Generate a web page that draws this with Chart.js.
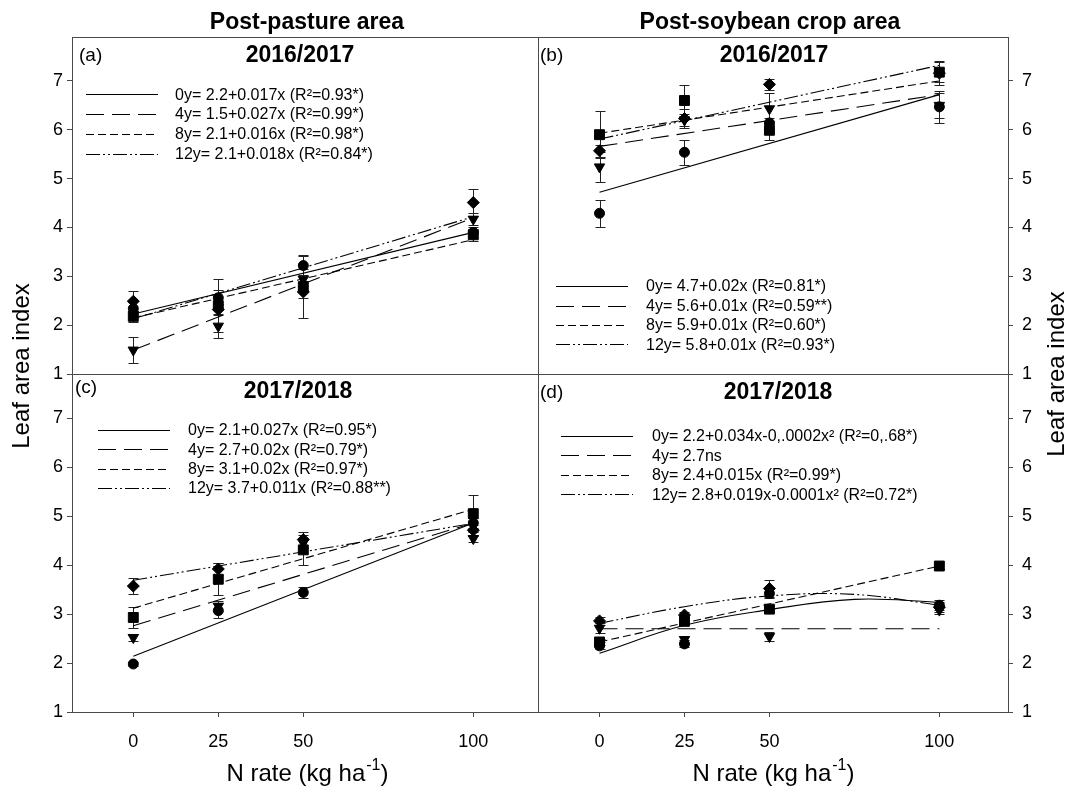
<!DOCTYPE html>
<html><head><meta charset="utf-8">
<script src="https://cdn.jsdelivr.net/npm/chart.js@4.4.1/dist/chart.umd.min.js"></script>
<style>
html,body{margin:0;padding:0;background:#fff;}
#wrap{position:relative;width:1067px;height:786px;overflow:hidden;background:#fff;}
#wrap canvas{position:absolute;left:0;top:0;}
</style></head><body>
<div id="wrap">
<canvas id="pa" width="1067" height="786"></canvas>
<canvas id="pb" width="1067" height="786"></canvas>
<canvas id="pc" width="1067" height="786"></canvas>
<canvas id="pd" width="1067" height="786"></canvas>
</div>
<script>
// ---------- data ----------
const nRates = [0, 25, 50, 100];
const xTickValues = [0, 25, 50, 100];
const yTickValues = [1, 2, 3, 4, 5, 6, 7];
const ages = ['0y', '4y', '8y', '12y'];
const fitXLinear = [0, 100];
const fitXCurve = [0, 25, 50, 75, 100];

// (a) Post-pasture 2016/2017
const laiA_0y = [2.34, 2.56, 3.22, 3.90];
const laiA_4y = [1.49, 1.98, 2.94, 4.17];
const laiA_8y = [2.18, 2.40, 2.79, 3.85];
const laiA_12y = [2.49, 2.32, 2.68, 4.51];
const seA_0y = [0.18, 0.15, 0.20, 0.10];
const seA_4y = [0.27, 0.25, 0.22, 0.12];
const seA_8y = [0.12, 0.55, 0.65, 0.12];
const seA_12y = [0.20, 0.12, 0.12, 0.27];
const fitA_0y = [2.23, 3.90];
const fitA_4y = [1.49, 4.20];
const fitA_8y = [2.15, 3.75];
const fitA_12y = [2.13, 4.22];
const eqA = ['0y= 2.2+0.017x (R\u00b2=0.93*)', '4y= 1.5+0.027x (R\u00b2=0.99*)', '8y= 2.1+0.016x (R\u00b2=0.98*)', '12y= 2.1+0.018x (R\u00b2=0.84*)'];

// (b) Post-soybean 2016/2017
const laiB_0y = [4.29, 5.54, 6.14, 6.47];
const laiB_4y = [5.24, 6.20, 6.43, 6.50];
const laiB_8y = [5.90, 6.60, 5.99, 7.18];
const laiB_12y = [5.57, 6.23, 6.93, 7.16];
const seB_0y = [0.27, 0.26, 0.10, 0.33];
const seB_4y = [0.30, 0.12, 0.32, 0.25];
const seB_8y = [0.48, 0.32, 0.20, 0.20];
const seB_12y = [0.12, 0.20, 0.12, 0.24];
const fitB_0y = [4.72, 6.72];
const fitB_4y = [5.66, 6.72];
const fitB_8y = [5.93, 7.00];
const fitB_12y = [5.81, 7.32];
const eqB = ['0y= 4.7+0.02x (R\u00b2=0.81*)', '4y= 5.6+0.01x (R\u00b2=0.59**)', '8y= 5.9+0.01x (R\u00b2=0.60*)', '12y= 5.8+0.01x (R\u00b2=0.93*)'];

// (c) Post-pasture 2017/2018
const laiC_0y = [1.98, 3.07, 3.44, 4.86];
const laiC_4y = [2.52, 3.16, 4.45, 4.54];
const laiC_8y = [2.93, 3.71, 4.31, 5.05];
const laiC_12y = [3.57, 3.92, 4.52, 4.71];
const seC_0y = [0.05, 0.15, 0.12, 0.10];
const seC_4y = [0.08, 0.10, 0.10, 0.06];
const seC_8y = [0.22, 0.33, 0.30, 0.38];
const seC_12y = [0.17, 0.13, 0.15, 0.10];
const fitC_0y = [2.14, 4.86];
const fitC_4y = [2.76, 4.86];
const fitC_8y = [3.12, 5.14];
const fitC_12y = [3.69, 4.85];
const eqC = ['0y= 2.1+0.027x (R\u00b2=0.95*)', '4y= 2.7+0.02x (R\u00b2=0.79*)', '8y= 3.1+0.02x (R\u00b2=0.97*)', '12y= 3.7+0.011x (R\u00b2=0.88**)'];

// (d) Post-soybean 2017/2018
const laiD_0y = [2.35, 2.39, 3.42, 3.18];
const laiD_4y = [2.71, 2.48, 2.54, 3.08];
const laiD_8y = [2.43, 2.85, 3.10, 3.98];
const laiD_12y = [2.86, 2.98, 3.52, 3.14];
const seD_0y = [0.07, 0.07, 0.10, 0.10];
const seD_4y = [0.10, 0.08, 0.10, 0.07];
const seD_8y = [0.07, 0.06, 0.06, 0.07];
const seD_12y = [0.08, 0.06, 0.17, 0.10];
const fitD_0y = [2.20, 2.77, 3.09, 3.30, 3.24];
const fitD_4y = [2.70, 2.70];
const fitD_8y = [2.43, 3.98];
const fitD_12y = [2.81, 3.15, 3.37, 3.40, 3.18];
const eqD = ['0y= 2.2+0.034x-0,.0002x\u00b2 (R\u00b2=0,.68*)', '4y= 2.7ns', '8y= 2.4+0.015x (R\u00b2=0.99*)', '12y= 2.8+0.019x-0.0001x\u00b2 (R\u00b2=0.72*)'];

// ---------- styling ----------
const FAMILY = "'Liberation Sans', Arial, Helvetica, sans-serif";
const AXIS_COLOR = '#4a4a4a';
const seriesStyle = {
  dash: [[], [18, 8], [8, 4], [14, 3, 2, 3, 2, 3]],
  point: ['circle', 'triangle', 'rect', 'rectRot'],
  rotation: [0, 180, 0, 0],
  radius: [5, 6, 7, 6]
};
Chart.defaults.font.family = FAMILY;
Chart.defaults.color = '#000';

function drawXTitle(ctx, cx, baseY) {
  const main = 'N rate (kg ha', sup = '-1', end = ')';
  ctx.font = '24px ' + FAMILY; const w1 = ctx.measureText(main).width; const w3 = ctx.measureText(end).width;
  ctx.font = '16px ' + FAMILY; const w2 = ctx.measureText(sup).width;
  let x = cx - (w1 + w2 + w3) / 2;
  ctx.textAlign = 'left'; ctx.textBaseline = 'alphabetic'; ctx.fillStyle = '#000';
  ctx.font = '24px ' + FAMILY; ctx.fillText(main, x, baseY); x += w1;
  ctx.font = '16px ' + FAMILY; ctx.fillText(sup, x + 1, baseY - 11); x += w2 + 1;
  ctx.font = '24px ' + FAMILY; ctx.fillText(end, x, baseY);
}

function buildPanel(id, p) {
  const datasets = [];
  ages.forEach((age, k) => {
    datasets.push({
      label: age,
      data: nRates.map((x, j) => ({ x: x, y: p.means[k][j] })),
      errors: p.se[k],
      showLine: false,
      pointStyle: seriesStyle.point[k],
      rotation: seriesStyle.rotation[k],
      pointRadius: seriesStyle.radius[k],
      backgroundColor: '#000', borderColor: '#000', borderWidth: 1,
      order: 0
    });
  });
  ages.forEach((age, k) => {
    const fx = p.fits[k].length > 2 ? fitXCurve : fitXLinear;
    datasets.push({
      label: age + ' fit',
      data: fx.map((x, j) => ({ x: x, y: p.fits[k][j] })),
      showLine: true, pointRadius: 0, borderColor: '#000', borderWidth: 1.1,
      borderDash: seriesStyle.dash[k], tension: fx.length > 2 ? 0.4 : 0,
      fill: false, order: 1
    });
  });

  const errorBars = {
    id: 'errorBars' + id,
    beforeDatasetsDraw(chart) {
      const ctx = chart.ctx, ys = chart.scales.y;
      ctx.save();
      ctx.strokeStyle = '#222'; ctx.lineWidth = 1;
      chart.data.datasets.forEach((ds, i) => {
        if (!ds.errors) return;
        const meta = chart.getDatasetMeta(i);
        meta.data.forEach((pt, j) => {
          const v = ds.data[j].y, e = ds.errors[j];
          const x = Math.round(pt.x) + 0.5;
          const y1 = Math.round(ys.getPixelForValue(v + e)) + 0.5;
          const y2 = Math.round(ys.getPixelForValue(v - e)) + 0.5;
          ctx.beginPath();
          ctx.moveTo(x, y1); ctx.lineTo(x, y2);
          ctx.moveTo(x - 5, y1); ctx.lineTo(x + 5, y1);
          ctx.moveTo(x - 5, y2); ctx.lineTo(x + 5, y2);
          ctx.stroke();
        });
      });
      ctx.restore();
    }
  };

  const decor = {
    id: 'decor' + id,
    afterDraw(chart) {
      const ctx = chart.ctx, a = chart.chartArea;
      ctx.save();
      ctx.strokeStyle = AXIS_COLOR; ctx.lineWidth = 1;
      const L = Math.round(a.left) + 0.5, R = Math.round(a.right) + 0.5, T = Math.round(a.top) + 0.5, B = Math.round(a.bottom) + 0.5;
      ctx.strokeRect(L, T, R - L, B - T);
      // legend
      const lg = p.legend;
      ctx.strokeStyle = '#000'; ctx.fillStyle = '#000'; ctx.lineWidth = 1.1;
      ctx.font = '16px ' + FAMILY; ctx.textBaseline = 'middle'; ctx.textAlign = 'left';
      p.eq.forEach((t, k) => {
        const y = Math.round(lg.ys[k]) + 0.5;
        ctx.setLineDash(seriesStyle.dash[k]);
        ctx.beginPath(); ctx.moveTo(lg.x1, y); ctx.lineTo(lg.x2, y); ctx.stroke();
        ctx.setLineDash([]);
        ctx.fillText(t, lg.tx, lg.ys[k] + 1);
      });
      // texts
      p.texts.forEach(t => {
        ctx.save();
        ctx.font = t.font; ctx.textAlign = t.align || 'center'; ctx.textBaseline = 'middle'; ctx.fillStyle = '#000';
        ctx.translate(t.x, t.y);
        if (t.rot) ctx.rotate(t.rot);
        ctx.fillText(t.text, 0, 0);
        ctx.restore();
      });
      if (p.xTitle) drawXTitle(ctx, p.xTitle.x, p.xTitle.y);
      ctx.restore();
    }
  };

  new Chart(document.getElementById(id), {
    type: 'scatter',
    data: { datasets: datasets },
    options: {
      responsive: false, animation: false, events: [],
      layout: { padding: p.padding },
      plugins: { legend: { display: false }, tooltip: { enabled: false } },
      scales: {
        x: {
          type: 'linear', min: p.xMin, max: p.xMax, display: p.showX, position: 'bottom',
          afterBuildTicks: s => { s.ticks = xTickValues.map(v => ({ value: v })); },
          afterFit: s => { s.height = p.showX ? 74 : 0; },
          ticks: { font: { size: 18 }, color: '#000', padding: 14, autoSkip: false, maxRotation: 0 },
          grid: { drawOnChartArea: false, drawTicks: true, tickLength: 5, color: AXIS_COLOR, lineWidth: 1 },
          border: { display: true, color: AXIS_COLOR, width: 1 }
        },
        y: {
          type: 'linear', min: 1, max: 7.9, position: p.yPos,
          afterBuildTicks: s => { s.ticks = yTickValues.map(v => ({ value: v })); },
          afterFit: s => { s.width = p.yWidth; },
          ticks: { font: { size: 18 }, color: '#000', padding: p.yPad, autoSkip: false },
          grid: { drawOnChartArea: false, drawTicks: true, tickLength: 5, color: AXIS_COLOR, lineWidth: 1 },
          border: { display: true, color: AXIS_COLOR, width: 1 }
        }
      }
    },
    plugins: [errorBars, decor]
  });
}

const TITLE_FONT = 'bold 23px ' + FAMILY;
const TAG_FONT = '19px ' + FAMILY;
const AXT_FONT = '24px ' + FAMILY;

buildPanel('pa', {
  means: [laiA_0y, laiA_4y, laiA_8y, laiA_12y], se: [seA_0y, seA_4y, seA_8y, seA_12y],
  fits: [fitA_0y, fitA_4y, fitA_8y, fitA_12y], eq: eqA,
  padding: { left: 0, top: 37, right: 529, bottom: 412 }, yPos: 'left', yWidth: 72, yPad: 4,
  showX: false, xMin: -18.03, xMax: 119.03,
  legend: { x1: 86, x2: 158, tx: 175, ys: [94.3, 114, 133.5, 154] },
  texts: [
    { text: 'Post-pasture area', x: 307, y: 23, font: TITLE_FONT },
    { text: '(a)', x: 79, y: 56, font: TAG_FONT, align: 'left' },
    { text: '2016/2017', x: 300, y: 56, font: TITLE_FONT },
    { text: 'Leaf area index', x: 22, y: 366, font: AXT_FONT, rot: -Math.PI / 2 }
  ]
});
buildPanel('pb', {
  means: [laiB_0y, laiB_4y, laiB_8y, laiB_12y], se: [seB_0y, seB_4y, seB_8y, seB_12y],
  fits: [fitB_0y, fitB_4y, fitB_8y, fitB_12y], eq: eqB,
  padding: { left: 538, top: 37, right: 0, bottom: 412 }, yPos: 'right', yWidth: 59, yPad: 9,
  showX: false, xMin: -18.1, xMax: 120.2,
  legend: { x1: 556, x2: 628, tx: 646, ys: [286, 305.7, 324.5, 344.3] },
  texts: [
    { text: 'Post-soybean crop area', x: 770, y: 23, font: TITLE_FONT },
    { text: '(b)', x: 540, y: 56, font: TAG_FONT, align: 'left' },
    { text: '2016/2017', x: 774, y: 56, font: TITLE_FONT },
    { text: 'Leaf area index', x: 1057, y: 374, font: AXT_FONT, rot: -Math.PI / 2 }
  ]
});
buildPanel('pc', {
  means: [laiC_0y, laiC_4y, laiC_8y, laiC_12y], se: [seC_0y, seC_4y, seC_8y, seC_12y],
  fits: [fitC_0y, fitC_4y, fitC_8y, fitC_12y], eq: eqC,
  padding: { left: 0, top: 374, right: 529, bottom: 0 }, yPos: 'left', yWidth: 72, yPad: 4,
  showX: true, xMin: -18.03, xMax: 119.03,
  legend: { x1: 98, x2: 170, tx: 188, ys: [430, 449.3, 468.5, 487.7] },
  texts: [
    { text: '(c)', x: 75, y: 388, font: TAG_FONT, align: 'left' },
    { text: '2017/2018', x: 298, y: 392, font: TITLE_FONT }
  ],
  xTitle: { x: 307, y: 781 }
});
buildPanel('pd', {
  means: [laiD_0y, laiD_4y, laiD_8y, laiD_12y], se: [seD_0y, seD_4y, seD_8y, seD_12y],
  fits: [fitD_0y, fitD_4y, fitD_8y, fitD_12y], eq: eqD,
  padding: { left: 538, top: 374, right: 0, bottom: 0 }, yPos: 'right', yWidth: 59, yPad: 9,
  showX: true, xMin: -18.1, xMax: 120.2,
  legend: { x1: 561, x2: 633, tx: 652, ys: [436, 455.3, 475, 494.3] },
  texts: [
    { text: '(d)', x: 540, y: 393, font: TAG_FONT, align: 'left' },
    { text: '2017/2018', x: 778, y: 393, font: TITLE_FONT }
  ],
  xTitle: { x: 773, y: 781 }
});
</script>
</body></html>
